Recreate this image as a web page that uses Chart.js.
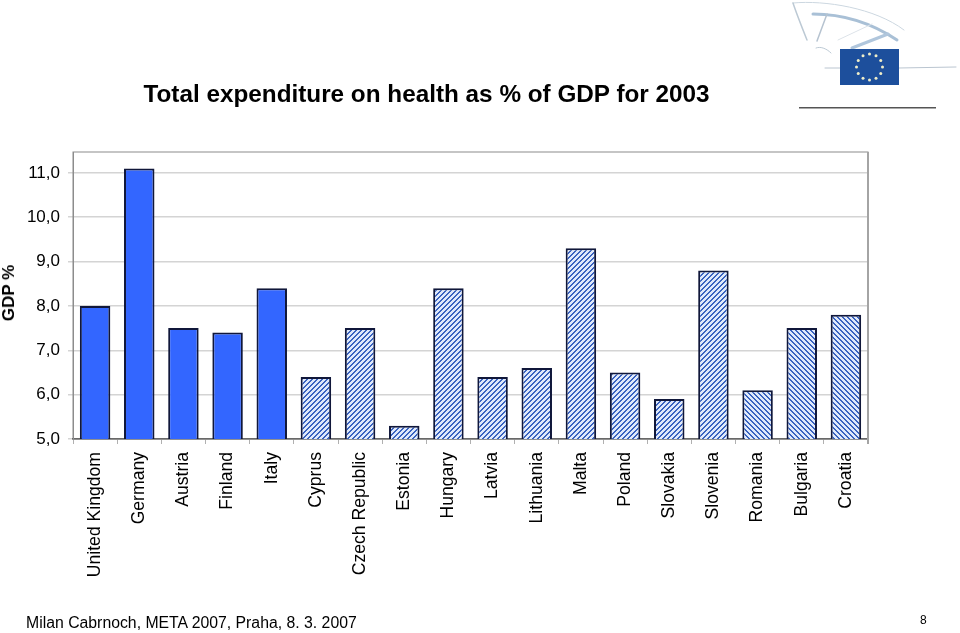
<!DOCTYPE html>
<html>
<head>
<meta charset="utf-8">
<title>Total expenditure on health as % of GDP for 2003</title>
<script src="https://cdn.jsdelivr.net/npm/chart.js@4/dist/chart.umd.min.js"></script>
<style>
    html, body { margin: 0; padding: 0; background: #fff; }
    body { position: relative; width: 960px; height: 633px; overflow: hidden; font-family: "Liberation Sans", Arial, sans-serif; color: #000; }
    #chart-wrap { position: absolute; left: 0; top: 0; width: 960px; height: 633px; }
    #title { position: absolute; left: 0; width: 853px; top: 79px; text-align: center; font-size: 24.3px; font-weight: bold; line-height: 30px; white-space: nowrap; }
    #y-title { position: absolute; left: 9px; top: 293px; font-size: 17px; font-weight: bold; line-height: 20px; white-space: nowrap; transform: translate(-50%, -50%) rotate(-90deg); }
    #footer { position: absolute; left: 26px; top: 613px; font-size: 15.8px; line-height: 19px; white-space: nowrap; }
    #page { position: absolute; left: 920px; top: 613px; font-size: 12px; line-height: 15px; }
    #logo { position: absolute; left: 780px; top: 0; }
</style>
</head>
<body>
<div id="chart-wrap"><canvas id="chart" width="960" height="633"></canvas></div>
<div id="title">Total expenditure on health as % of GDP for 2003</div>
<div id="y-title">GDP %</div>
<svg id="logo" width="180" height="120" viewBox="0 0 180 120">
    <g fill="none" stroke-linecap="round" style="filter: blur(0.4px)">
        <path d="M13 3 C45 0 95 8 124 30" stroke="#ccd7e0" stroke-width="1"/>
        <path d="M13 3 C17 15 23 30 27 40" stroke="#bcc9d4" stroke-width="1.5"/>
        <path d="M33 14 C60 14 90 22 117 40" stroke="#a9c0d6" stroke-width="3"/>
        <path d="M47 14 L37 41" stroke="#b6c3d0" stroke-width="1.5"/>
        <path d="M108 34 L72 48" stroke="#b0c6dc" stroke-width="3"/>
        <path d="M58 40 L92 24" stroke="#dde3e9" stroke-width="1"/>
        <path d="M36 48 C41 46 47 49 51 53" stroke="#bcc9d4" stroke-width="1"/>
        <path d="M45 68 L60 68" stroke="#bac5d0" stroke-width="1"/>
        <path d="M119 68 L176 67" stroke="#bac5d0" stroke-width="1"/>
    </g>
    <rect x="60" y="49" width="59" height="36" fill="#1d4f9c"/>
    <g id="stars" fill="#f0eec8"></g>
    <rect x="19" y="107" width="137" height="1.5" fill="#555"/>
</svg>
<div id="footer">Milan Cabrnoch, META 2007, Praha, 8. 3. 2007</div>
<div id="page">8</div>
<script>
const categories = ['United Kingdom', 'Germany', 'Austria', 'Finland', 'Italy', 'Cyprus', 'Czech Republic', 'Estonia', 'Hungary', 'Latvia', 'Lithuania', 'Malta', 'Poland', 'Slovakia', 'Slovenia', 'Romania', 'Bulgaria', 'Croatia'];
const gdpShare = [8.0, 11.1, 7.5, 7.4, 8.4, 6.4, 7.5, 5.3, 8.4, 6.4, 6.6, 9.3, 6.5, 5.9, 8.8, 6.1, 7.5, 7.8];
const barGroups = ['solid', 'solid', 'solid', 'solid', 'solid', 'up', 'up', 'up', 'up', 'up', 'up', 'up', 'up', 'up', 'up', 'down', 'down', 'down'];
const yTickLabels = ['5,0', '6,0', '7,0', '8,0', '9,0', '10,0', '11,0'];

// EU flag ring
const starGroup = document.getElementById('stars');
for (let i = 0; i < 12; i++) {
    const a = i * Math.PI / 6;
    const star = document.createElementNS('http://www.w3.org/2000/svg', 'circle');
    star.setAttribute('cx', 89.5 + 13 * Math.sin(a));
    star.setAttribute('cy', 67 - 13 * Math.cos(a));
    star.setAttribute('r', 1.5);
    starGroup.appendChild(star);
}

// Hatch tile drawn pixel by pixel so the stripes stay crisp
function hatch(direction) {
    const size = 5;
    const tile = document.createElement('canvas');
    tile.width = size;
    tile.height = size;
    const c = tile.getContext('2d');
    c.fillStyle = '#dfe9fb';
    c.fillRect(0, 0, size, size);
    c.fillStyle = '#3a63c0';
    for (let x = 0; x < size; x++) {
        for (let y = 0; y < size; y++) {
            const k = 'up' === direction ? (x + y) % size : (x - y + size) % size;
            if (k < 2) {
                c.fillRect(x, y, 1, 1);
            }
        }
    }
    return c.createPattern(tile, 'repeat');
}

const fills = { solid: '#3366ff', up: hatch('up'), down: hatch('down') };

const plotFrame = {
    id: 'plotFrame',
    beforeDatasetsDraw(chart) {
        const { ctx, chartArea: a } = chart;
        ctx.save();
        ctx.strokeStyle = '#8c8c8c';
        ctx.lineWidth = 1;
        ctx.strokeRect(a.left, a.top, a.right - a.left, a.bottom - a.top);
        ctx.strokeStyle = '#a4a4a4';
        ctx.lineWidth = 2;
        ctx.beginPath();
        ctx.moveTo(a.right, a.top);
        ctx.lineTo(a.right, a.bottom + 5);
        ctx.stroke();
        ctx.restore();
    },
};

new Chart(document.getElementById('chart'), {
    type: 'bar',
    data: {
        labels: categories,
        datasets: [{
            data: gdpShare,
            backgroundColor: barGroups.map((g) => fills[g]),
            borderColor: '#10173a',
            borderWidth: 2,
            borderSkipped: false,
            categoryPercentage: 0.69,
            barPercentage: 1,
        }],
    },
    plugins: [plotFrame],
    options: {
        responsive: false,
        animation: false,
        devicePixelRatio: 1,
        layout: { padding: { left: 0, top: 152, right: 92, bottom: 0 } },
        plugins: { legend: { display: false }, title: { display: false }, tooltip: { enabled: false } },
        scales: {
            x: {
                afterFit(scale) { scale.height = 194; },
                grid: { drawOnChartArea: false, offset: true, color: '#b0b0b0', tickLength: 5, lineWidth: 1 },
                border: { color: '#444', width: 1.5 },
                ticks: {
                    minRotation: 90,
                    maxRotation: 90,
                    autoSkip: false,
                    padding: 8,
                    color: '#000',
                    font: { family: '"Liberation Sans", Arial, sans-serif', size: 17.6 },
                },
            },
            y: {
                min: 5,
                max: 11.47,
                afterFit(scale) { scale.width = 73; },
                grid: { color: '#d4d4d4', lineWidth: 1.5, tickLength: 5 },
                border: { color: '#8c8c8c', width: 1 },
                ticks: {
                    stepSize: 1,
                    includeBounds: false,
                    padding: 8,
                    color: '#000',
                    font: { family: '"Liberation Sans", Arial, sans-serif', size: 17 },
                    callback: (value, index) => yTickLabels[index],
                },
            },
        },
    },
});
</script>
</body>
</html>
